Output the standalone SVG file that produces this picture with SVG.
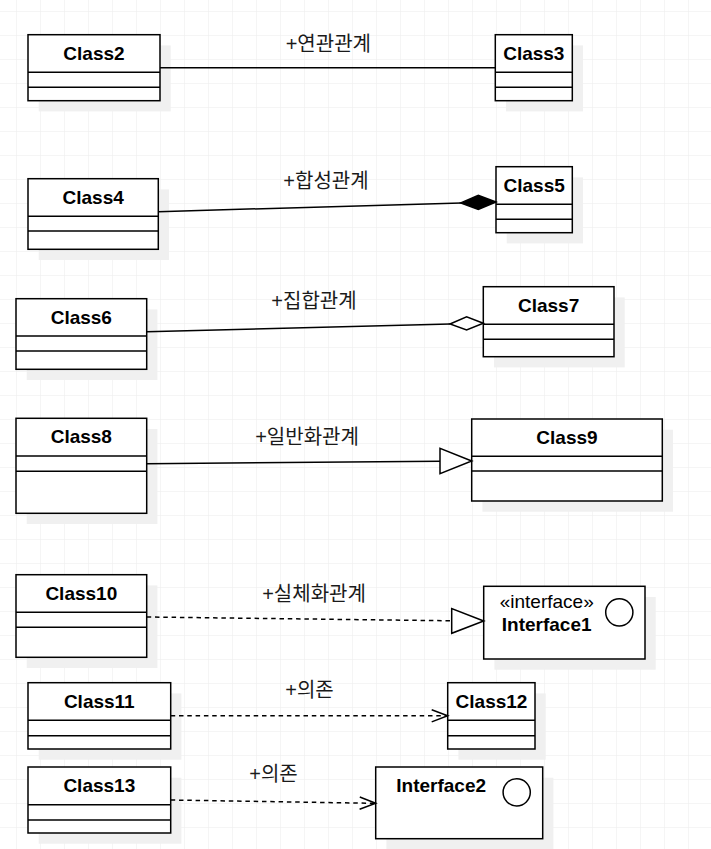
<svg xmlns="http://www.w3.org/2000/svg" width="711" height="849" viewBox="0 0 711 849">
<style>
.box{fill:#fff;stroke:#000;stroke-width:1.5}
.sh{fill:#f0f0f0;stroke:none}
.sep{stroke:#000;stroke-width:1.5}
.name{font-family:"Liberation Sans",Arial,sans-serif;font-size:19px;font-weight:bold;fill:#000;text-anchor:middle}
.ster{font-family:"Liberation Sans",Arial,sans-serif;font-size:19px;fill:#000;text-anchor:middle}
.lbl{font-family:"Liberation Sans","Noto Sans CJK KR",sans-serif;font-size:20px;fill:#1a1a1a;text-anchor:middle}
.ln{fill:none;stroke:#000;stroke-width:1.5}
.dash{stroke-dasharray:4.5 3.8}
</style>
<defs>
<pattern id="grid" patternUnits="userSpaceOnUse" x="16" y="11" width="24" height="24">
<path d="M0 0H24M0 0V24" fill="none" stroke="#ebebeb" stroke-width="1"/>
</pattern>
</defs>
<rect width="711" height="849" fill="#fff"/>
<rect width="711" height="849" fill="url(#grid)"/>

<g id="Class2">
<rect class="sh" x="38.7" y="45.4" width="132" height="66"/>
<rect class="box" x="28" y="34.7" width="132" height="66"/>
<line class="sep" x1="28" y1="72.3" x2="160" y2="72.3"/>
<line class="sep" x1="28" y1="87.3" x2="160" y2="87.3"/>
<text class="name" x="94" y="60">Class2</text>
</g>
<g id="Class3">
<rect class="sh" x="506" y="45.4" width="77" height="66"/>
<rect class="box" x="495.3" y="34.7" width="77" height="66"/>
<line class="sep" x1="495.3" y1="72.3" x2="572.3" y2="72.3"/>
<line class="sep" x1="495.3" y1="87.3" x2="572.3" y2="87.3"/>
<text class="name" x="533.8" y="60">Class3</text>
</g>
<g id="Class4">
<rect class="sh" x="38.7" y="189.4" width="130.3" height="70.6"/>
<rect class="box" x="28" y="178.7" width="130.3" height="70.6"/>
<line class="sep" x1="28" y1="216.3" x2="158.3" y2="216.3"/>
<line class="sep" x1="28" y1="231" x2="158.3" y2="231"/>
<text class="name" x="93.2" y="203.5">Class4</text>
</g>
<g id="Class5">
<rect class="sh" x="506.7" y="177.4" width="76.3" height="66"/>
<rect class="box" x="496" y="166.7" width="76.3" height="66"/>
<line class="sep" x1="496" y1="204.3" x2="572.3" y2="204.3"/>
<line class="sep" x1="496" y1="219.3" x2="572.3" y2="219.3"/>
<text class="name" x="534.2" y="192">Class5</text>
</g>
<g id="Class6">
<rect class="sh" x="26.7" y="309.4" width="130.7" height="70.6"/>
<rect class="box" x="16" y="298.7" width="130.7" height="70.6"/>
<line class="sep" x1="16" y1="336" x2="146.7" y2="336"/>
<line class="sep" x1="16" y1="351" x2="146.7" y2="351"/>
<text class="name" x="81.3" y="323.5">Class6</text>
</g>
<g id="Class7">
<rect class="sh" x="494" y="297.4" width="130.7" height="70"/>
<rect class="box" x="483.3" y="286.7" width="130.7" height="70"/>
<line class="sep" x1="483.3" y1="324.3" x2="614" y2="324.3"/>
<line class="sep" x1="483.3" y1="339.3" x2="614" y2="339.3"/>
<text class="name" x="548.6" y="311.7">Class7</text>
</g>
<g id="Class8">
<rect class="sh" x="26.7" y="429" width="130.7" height="95"/>
<rect class="box" x="16" y="418.3" width="130.7" height="95"/>
<line class="sep" x1="16" y1="456" x2="146.7" y2="456"/>
<line class="sep" x1="16" y1="471.3" x2="146.7" y2="471.3"/>
<text class="name" x="81.3" y="443.3">Class8</text>
</g>
<g id="Class9">
<rect class="sh" x="482.4" y="429.7" width="190.6" height="82"/>
<rect class="box" x="471.7" y="419" width="190.6" height="82"/>
<line class="sep" x1="471.7" y1="456.3" x2="662.3" y2="456.3"/>
<line class="sep" x1="471.7" y1="471" x2="662.3" y2="471"/>
<text class="name" x="567" y="443.5">Class9</text>
</g>
<g id="Class10">
<rect class="sh" x="26.7" y="585.4" width="130.7" height="82.6"/>
<rect class="box" x="16" y="574.7" width="130.7" height="82.6"/>
<line class="sep" x1="16" y1="612.3" x2="146.7" y2="612.3"/>
<line class="sep" x1="16" y1="627.3" x2="146.7" y2="627.3"/>
<text class="name" x="81.3" y="600">Class10</text>
</g>
<g id="Interface1">
<rect class="sh" x="494.4" y="597" width="161.3" height="72.7"/>
<rect class="box" x="483.7" y="586.3" width="161.3" height="72.7"/>
<circle cx="619.3" cy="612.3" r="13.6" fill="none" stroke="#000" stroke-width="1.5"/>
<text class="ster" x="546.7" y="607.7">«interface»</text>
<text class="name" x="546.7" y="631">Interface1</text>
</g>
<g id="Class11">
<rect class="sh" x="38.7" y="693.4" width="142.7" height="66.3"/>
<rect class="box" x="28" y="682.7" width="142.7" height="66.3"/>
<line class="sep" x1="28" y1="720.3" x2="170.7" y2="720.3"/>
<line class="sep" x1="28" y1="735.7" x2="170.7" y2="735.7"/>
<text class="name" x="99.3" y="707.5">Class11</text>
</g>
<g id="Class12">
<rect class="sh" x="458.4" y="693.4" width="87.3" height="66.3"/>
<rect class="box" x="447.7" y="682.7" width="87.3" height="66.3"/>
<line class="sep" x1="447.7" y1="720.3" x2="535" y2="720.3"/>
<line class="sep" x1="447.7" y1="735.7" x2="535" y2="735.7"/>
<text class="name" x="491.5" y="707.5">Class12</text>
</g>
<g id="Class13">
<rect class="sh" x="38.7" y="777.7" width="142.7" height="66"/>
<rect class="box" x="28" y="767" width="142.7" height="66"/>
<line class="sep" x1="28" y1="804.7" x2="170.7" y2="804.7"/>
<line class="sep" x1="28" y1="820" x2="170.7" y2="820"/>
<text class="name" x="99.3" y="791.7">Class13</text>
</g>
<g id="Interface2">
<rect class="sh" x="386.4" y="777.7" width="167" height="71.7"/>
<rect class="box" x="375.7" y="767" width="167" height="71.7"/>
<circle cx="516.7" cy="792.3" r="13.6" fill="none" stroke="#000" stroke-width="1.5"/>
<text class="name" x="441.2" y="791.7">Interface2</text>
</g>

<g id="connectors">
<line class="ln" x1="160" y1="67.7" x2="495.3" y2="67.7"/>
<text class="lbl" x="328.3" y="51">+연관관계</text>

<line class="ln" x1="158.3" y1="211.7" x2="461" y2="202.9"/>
<path d="M496 202 L478.3 195.2 L460.7 202.9 L478.3 209.4 Z" fill="#000" stroke="#000" stroke-width="1.5" stroke-linejoin="miter"/>
<text class="lbl" x="326" y="188">+합성관계</text>

<line class="ln" x1="146.7" y1="331.7" x2="450" y2="324"/>
<path d="M483.3 323.3 L466.6 316.9 L450 324 L466.6 330 Z" fill="#fff" stroke="#000" stroke-width="1.5"/>
<text class="lbl" x="314" y="307.5">+집합관계</text>

<line class="ln" x1="146.7" y1="463.7" x2="440" y2="461.2"/>
<path d="M471.7 461 L440 448.3 L440 473.7 Z" fill="#fff" stroke="#000" stroke-width="1.5"/>
<text class="lbl" x="307" y="444">+일반화관계</text>

<line class="ln dash" x1="146.7" y1="617" x2="451.7" y2="620.8"/>
<path d="M483.7 621 L451.7 608.5 L451.7 633.3 Z" fill="#fff" stroke="#000" stroke-width="1.5"/>
<text class="lbl" x="314" y="601">+실체화관계</text>

<line class="ln dash" x1="170.7" y1="715.7" x2="446.5" y2="715.7"/>
<path d="M431.7 709.7 L447.7 715.7 L431.7 721.9" class="ln"/>
<text class="lbl" x="309.5" y="697">+의존</text>

<line class="ln dash" x1="170.7" y1="800" x2="374.5" y2="803.3"/>
<path d="M359.8 797 L375.7 803.3 L359.6 809.2" class="ln"/>
<text class="lbl" x="273.5" y="781">+의존</text>
</g>
</svg>
